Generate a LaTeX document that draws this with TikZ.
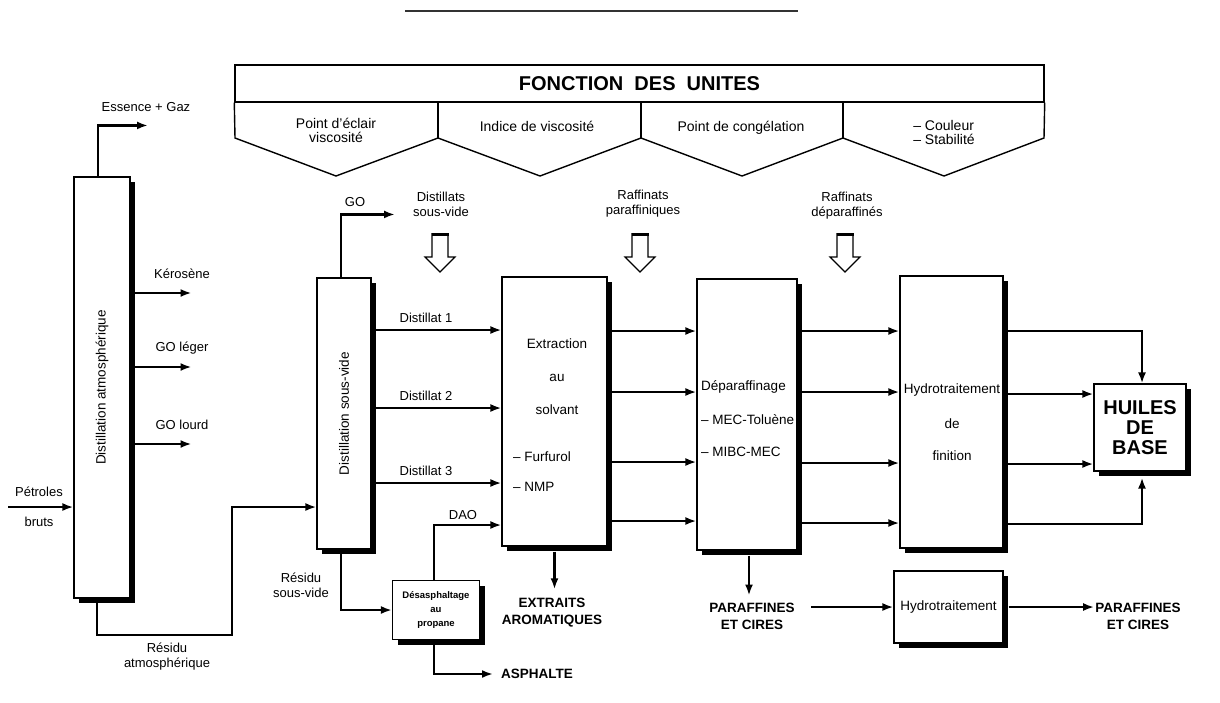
\documentclass[tikz,border=0pt]{standalone}
\usepackage{fontspec}
\setmainfont{Liberation Sans}
\usetikzlibrary{shadows,arrows.meta}

\tikzset{
  >={Latex[length=11pt,width=8pt]},
  flow/.style={->, line width=2.2pt},
  unit/.style={draw, line width=1.1pt, fill=white, inner sep=0pt,
    drop shadow={shadow xshift=5pt, shadow yshift=-5pt, fill=black, opacity=1}},
  lbl/.style={font=\fontsize{13}{15}\selectfont, inner sep=1pt, align=center},
  boxtxt/.style={font=\fontsize{13.5}{15}\selectfont, inner sep=1pt},
  sect/.style={font=\fontsize{14}{14}\selectfont, inner sep=1pt, align=center},
  prod/.style={font=\bfseries\fontsize{13.5}{17}\selectfont, inner sep=1pt, align=center},
  header/.style={draw, line width=1.4pt, minimum width=809pt, minimum height=37pt,
    inner sep=0pt, font=\bfseries\fontsize{20}{22}\selectfont}
}

\begin{document}
\begin{tikzpicture}[x=1pt,y=-1pt]
\useasboundingbox (0,0) rectangle (1220,702);
\draw[line width=1.2pt, black!80] (405,11) -- (798,11);

% fonction des unites
\node[header] (fct) at (639.5,83.5) {FONCTION\ \ DES\ \ UNITES};
\draw[line width=1.4pt] (fct.south west) -- (235,138) -- (336,176) -- (438,138) -- (540,176)
  -- (641,138) -- (742,176) -- (843,138) -- (944,176) -- (1044,138) -- (fct.south east);
\foreach \x in {438,641,843}
  \draw[line width=1.4pt] (\x,102) -- (\x,138);
\node[sect] (f1) at (336,130) {Point d'éclair\\viscosité};
\node[sect] (f2) at (537,126) {Indice de viscosité};
\node[sect] (f3) at (741,128) {Point de congélation};
\node[sect, align=left] (f4) at (944,132) {– Couleur\\– Stabilité};

% fleches creuses
\foreach \x in {440,640,845}{
  \draw[line width=1.1pt] ({\x-8},233) -- ({\x-8},257) -- ({\x-15},257) -- (\x,272)
    -- ({\x+15},257) -- ({\x+8},257) -- ({\x+8},233);
  \draw[line width=3.5pt] ({\x-8.5},234.5) -- ({\x+8.5},234.5);
}
\node[lbl] (l1) at (441,204) {Distillats\\sous-vide};
\node[lbl] (l2) at (643,204) {Raffinats\\paraffiniques};
\node[lbl] (l3) at (847,206) {Raffinats\\déparaffinés};

% unites
\node[unit, minimum width=56pt, minimum height=421pt] (atm) at (102,387.5) {};
\node[boxtxt, rotate=90] at (atm.center) {Distillation atmosphérique};
\node[unit, minimum width=54pt, minimum height=271pt] (vac) at (344,413.5) {};
\node[boxtxt, rotate=90] at (vac.center) {Distillation sous-vide};
\node[unit, minimum width=105pt, minimum height=269pt] (ext) at (554.5,411.5) {};
\node[unit, minimum width=100pt, minimum height=271pt] (dep) at (747,414.5) {};
\node[unit, minimum width=103pt, minimum height=272pt] (hyf) at (951.5,412) {};
\node[unit, minimum width=92pt, minimum height=87pt,
  font=\bfseries\fontsize{20}{20}\selectfont, align=center] (hb) at (1140,427.5) {HUILES\\DE\\BASE};
\node[unit, minimum width=109pt, minimum height=72pt, boxtxt] (hyd) at (948.5,607) {Hydrotraitement};
\node[unit, minimum width=87pt, minimum height=59pt,
  font=\bfseries\fontsize{9.5}{14}\selectfont, align=center] (dsa) at (436,610) {Désasphaltage\\au\\propane};

\node[boxtxt] at (557,344) {Extraction};
\node[boxtxt] at (557,378) {au};
\node[boxtxt] at (557,410) {solvant};
\node[boxtxt, anchor=west] at (512,457) {– Furfurol};
\node[boxtxt, anchor=west] at (512,487) {– NMP};
\node[boxtxt, anchor=west] at (700,387) {Déparaffinage};
\node[boxtxt, anchor=west] at (700,420) {– MEC-Toluène};
\node[boxtxt, anchor=west] at (700,452) {– MIBC-MEC};
\node[boxtxt] at (952,390) {Hydrotraitement};
\node[boxtxt] at (952,424) {de};
\node[boxtxt] at (952,456) {finition};

% distillation atmospherique
\coordinate (brut) at (8,507);
\draw[flow] (brut) -- (atm.west |- brut);
\node[lbl] at (39,492) {Pétroles};
\node[lbl] at (39,522) {bruts};
\draw[flow] ([xshift=-4pt]atm.north) |- ++(50,-51);
\node[lbl] at (146,107) {Essence + Gaz};
\foreach \y/\name in {293/Kérosène, 367/GO léger, 444/GO lourd}{
  \draw[flow] (atm.east |- 0,\y) -- +(61,0);
  \node[lbl] at (182,{\y-19}) {\name};
}
\draw[flow] ([xshift=-5pt]atm.south) |- (232,635) |- (vac.west |- brut);
\node[lbl] at (167,657) {Résidu\\atmosphérique};

% distillation sous-vide
\draw[flow] ([xshift=-3pt]vac.north) |- ++(54,-63);
\node[lbl] at (355,202) {GO};
\foreach \y/\n in {330/1, 408/2, 483/3}{
  \draw[flow] (vac.east |- 0,\y) -- (ext.west |- 0,\y);
  \node[lbl] at (426,{\y-12}) {Distillat \n};
}
\draw[flow] ([xshift=-3pt]vac.south) |- (dsa.west);
\node[lbl] at (301,585) {Résidu\\sous-vide};
\draw[flow] ([xshift=-2pt]dsa.north) |- (ext.west |- 0,525);
\node[lbl] at (463,515) {DAO};
\node[prod, anchor=west] (asph) at (500,674) {ASPHALTE};
\draw[flow] ([xshift=-2pt]dsa.south) |- ([xshift=-7pt]asph.west);

% extraction, deparaffinage, hydrofinition
\node[prod] (extr) at (552,613) {EXTRAITS\\AROMATIQUES};
\draw[flow] ([yshift=-5pt]ext.south) -- ([yshift=8pt]ext.south |- extr.north);
\foreach \y in {331,392,462,521}
  \draw[flow] (ext.east |- 0,\y) -- (dep.west |- 0,\y);
\foreach \y in {331,392,463,523}
  \draw[flow] (dep.east |- 0,\y) -- (hyf.west |- 0,\y);
\draw[flow] (hyf.east |- 0,331) -| ([xshift=2pt]hb.north);
\foreach \y in {394,464}
  \draw[flow] (hyf.east |- 0,\y) -- (hb.west |- 0,\y);
\draw[flow] (hyf.east |- 0,524) -| ([xshift=2pt,yshift=-6pt]hb.south);

% paraffines
\node[prod] (par1) at (752,616) {PARAFFINES\\ET CIRES};
\draw[flow] ([xshift=2pt,yshift=-5pt]dep.south) -- ([xshift=2pt,yshift=6pt]dep.south |- par1.north);
\draw[flow] ([xshift=-82pt]hyd.west) -- (hyd.west);
\node[prod] (par2) at (1138,616) {PARAFFINES\\ET CIRES};
\draw[flow] ([xshift=5pt]hyd.east) -- (hyd.east -| par2.west);
\end{tikzpicture}
\end{document}
